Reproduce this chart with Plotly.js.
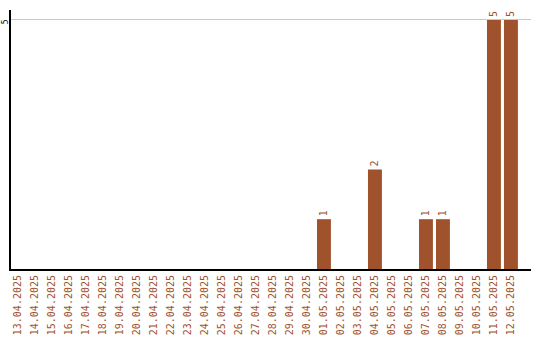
<!DOCTYPE html>
<html>
<head>
<meta charset="utf-8">
<script src="https://cdn.plot.ly/plotly-3.0.1.min.js"></script>
<style>html,body{margin:0;padding:0;background:#fff;}#chart{width:540px;height:340px;}</style>
</head>
<body>
<div id="chart"></div>
<script>
// Daily counts, 13.04.2025 – 12.05.2025
const dates = [
  "13.04.2025","14.04.2025","15.04.2025","16.04.2025","17.04.2025","18.04.2025",
  "19.04.2025","20.04.2025","21.04.2025","22.04.2025","23.04.2025","24.04.2025",
  "25.04.2025","26.04.2025","27.04.2025","28.04.2025","29.04.2025","30.04.2025",
  "01.05.2025","02.05.2025","03.05.2025","04.05.2025","05.05.2025","06.05.2025",
  "07.05.2025","08.05.2025","09.05.2025","10.05.2025","11.05.2025","12.05.2025"
];
const counts = [
  0,0,0,0,0,0,
  0,0,0,0,0,0,
  0,0,0,0,0,0,
  1,0,0,2,0,0,
  1,1,0,0,5,5
];
const yTickVals = [5];

const barColor = "#A0522D";
const monoFont = "DejaVu Sans Mono, monospace";

const labels = counts.map(v => v > 0 ? String(v) : "");

Plotly.newPlot("chart", [{
  type: "bar",
  x: dates,
  y: counts,
  width: 0.82,
  marker: {color: barColor},
  text: labels,
  textposition: "outside",
  textangle: -90,
  cliponaxis: false,
  textfont: {family: monoFont, size: 10, color: barColor},
  hoverinfo: "none"
}], {
  width: 540,
  height: 340,
  margin: {l: 11, r: 9, t: 10, b: 71},
  paper_bgcolor: "#fff",
  plot_bgcolor: "#fff",
  showlegend: false,
  xaxis: {
    type: "category",
    range: [-0.41, 30.18],
    showline: true,
    linecolor: "#000",
    linewidth: 2,
    ticks: "",
    tickangle: -90,
    tickfont: {family: monoFont, size: 10, color: barColor},
    showgrid: false,
    zeroline: false
  },
  yaxis: {
    range: [0, 5.2],
    tickvals: yTickVals,
    ticktext: yTickVals.map(String),
    tickangle: -90,
    tickfont: {family: monoFont, size: 8, color: "#000"},
    ticklabelstandoff: -2,
    ticklabelshift: 3,
    showline: true,
    linecolor: "#000",
    linewidth: 2,
    ticks: "",
    showgrid: true,
    gridcolor: "#c8c8c8",
    zeroline: false
  }
}, {staticPlot: true});
</script>
</body>
</html>
